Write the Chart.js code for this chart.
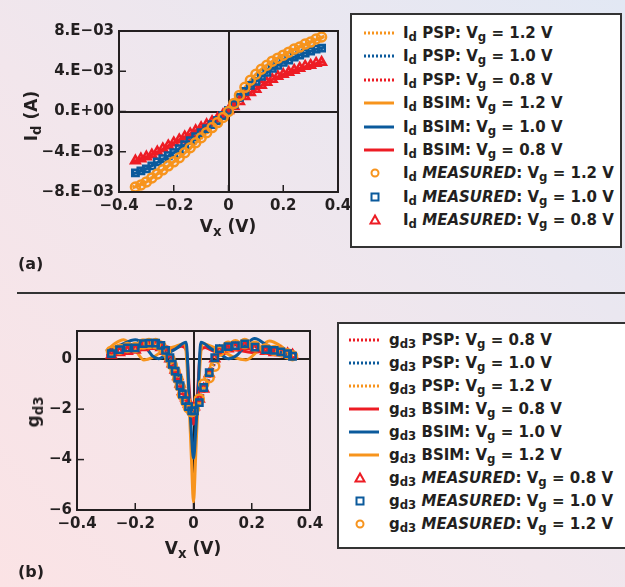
<!DOCTYPE html>
<html>
<head>
<meta charset="utf-8">
<script src="https://cdn.jsdelivr.net/npm/chart.js@4.4.0/dist/chart.umd.min.js"></script>
<style>
  body {
    margin: 0; width: 625px; height: 587px; overflow: hidden; position: relative;
    background: linear-gradient(to top right, #fbe3e5 0%, #f2e6ec 45%, #e2e8f4 100%);
    font-family: "DejaVu Sans", sans-serif; font-weight: 700; color: #231f20;
  }
  .abs { position: absolute; }
  .legend { position: absolute; background: #fff; border: 2px solid #333; box-sizing: border-box; }
  .row { position: absolute; left: 0; height: 22px; display: flex; align-items: center; white-space: nowrap; font-size: 15px; }
  .row svg { flex: none; }
  sub { font-size: 78%; vertical-align: -0.28em; line-height: 0; }
  i { font-style: italic; }
  .title { position: absolute; font-size: 17px; white-space: nowrap; transform: translate(-50%, -50%); }
  .rot { transform: translate(-50%, -50%) rotate(-90deg); }
  .tag { position: absolute; font-size: 16px; }
  .sep { position: absolute; left: 17px; right: 0; top: 292px; height: 1.5px; background: #333; }
</style>
</head>
<body>
<div class="abs" style="left:0;top:0"><canvas id="chartA" width="360" height="240"></canvas></div>
<div class="legend" id="legendA" style="left:350px;top:13px;width:272px;height:235px"></div>
<div class="title rot" style="left:31px;top:116px">I<sub>d</sub> (A)</div>
<div class="title" style="left:228px;top:226px">V<sub>x</sub> (V)</div>
<div class="tag" style="left:18px;top:254px">(a)</div>
<div class="sep"></div>

<div class="abs" style="left:0;top:290px"><canvas id="chartB" width="335" height="285"></canvas></div>
<div class="legend" id="legendB" style="left:337px;top:322px;width:290px;height:227px"></div>
<div class="title rot" style="left:33px;top:412px">g<sub>d3</sub></div>
<div class="title" style="left:193px;top:548px">V<sub>x</sub> (V)</div>
<div class="tag" style="left:18px;top:562px">(b)</div>

<script>
// colours
const orange = "#f7941d";
const blue = "#0b5a9c";
const red = "#ed1c24";
const ink = "#231f20";

// ---- panel (a): Id vs Vx, Id in mA ----
const idTicksX = [-0.4, -0.2, 0, 0.2, 0.4];
const idTickLabelsX = ["\u22120.4", "\u22120.2", "0", "0.2", "0.4"];
const idTicksY = [-8, -4, 0, 4, 8];
const idTickLabelsY = ["\u22128.E\u221203", "\u22124.E\u221203", "0.E+00", "4.E\u221203", "8.E\u221203"];

const idMeasVx = [-0.34, -0.32, -0.30, -0.28, -0.26, -0.24, -0.22, -0.20, -0.18, -0.16, -0.14, -0.12,
  -0.10, -0.08, -0.06, -0.04, -0.02, 0, 0.02, 0.04, 0.06, 0.08, 0.10, 0.12, 0.14, 0.16, 0.18, 0.20,
  0.22, 0.24, 0.26, 0.28, 0.30, 0.32, 0.34];
const idMeas12 = [-7.5, -7.3, -7.0, -6.6, -6.2, -5.8, -5.4, -5.0, -4.6, -4.1, -3.6, -3.1, -2.6, -2.1,
  -1.6, -1.1, -0.6, 0.0, 0.8, 1.6, 2.4, 3.1, 3.7, 4.2, 4.6, 5.0, 5.3, 5.6, 5.9, 6.2, 6.4, 6.7, 6.9, 7.2, 7.4];
const idMeas10 = [-6.1, -5.9, -5.7, -5.4, -5.0, -4.7, -4.4, -4.1, -3.7, -3.3, -2.9, -2.5, -2.1, -1.7,
  -1.3, -0.9, -0.4, 0.1, 0.7, 1.4, 2.0, 2.6, 3.0, 3.5, 3.9, 4.3, 4.6, 4.9, 5.1, 5.4, 5.6, 5.8, 6.0, 6.2, 6.3];
const idMeas08 = [-4.9, -4.7, -4.5, -4.3, -4.0, -3.7, -3.4, -3.1, -2.8, -2.5, -2.2, -1.9, -1.6, -1.3,
  -1.0, -0.7, -0.3, 0.1, 0.5, 1.0, 1.5, 1.9, 2.2, 2.6, 2.9, 3.2, 3.5, 3.7, 3.9, 4.1, 4.3, 4.5, 4.6, 4.8, 4.9];

const idModelVx = [-0.35, -0.3, -0.25, -0.2, -0.15, -0.1, -0.05, 0, 0.05, 0.1, 0.15, 0.2, 0.25, 0.3, 0.35];
const idPsp12 = [-7.5, -6.9, -6.0, -5.0, -3.9, -2.7, -1.4, 0.1, 2.0, 3.6, 4.7, 5.6, 6.3, 6.9, 7.4];
const idPsp10 = [-6.1, -5.6, -4.9, -4.1, -3.1, -2.1, -1.1, 0.1, 1.7, 2.9, 4.0, 4.8, 5.4, 5.9, 6.3];
const idPsp08 = [-4.9, -4.5, -3.9, -3.2, -2.4, -1.6, -0.85, 0.1, 1.2, 2.2, 3.0, 3.6, 4.1, 4.5, 4.9];
const idBsim12 = [-7.6, -7.0, -6.0, -5.0, -3.9, -2.6, -1.3, 0.0, 2.0, 3.7, 4.8, 5.6, 6.3, 6.9, 7.5];
const idBsim10 = [-6.2, -5.7, -4.9, -4.1, -3.1, -2.1, -1.1, 0.1, 1.7, 3.0, 4.1, 4.9, 5.5, 6.0, 6.4];
const idBsim08 = [-5.0, -4.5, -3.9, -3.1, -2.4, -1.6, -0.85, 0.1, 1.25, 2.2, 3.05, 3.7, 4.2, 4.6, 5.0];

// ---- panel (b): gd3 vs Vx ----
const gTicksX = [-0.4, -0.2, 0, 0.2, 0.4];
const gTickLabelsX = ["\u22120.4", "\u22120.2", "0", "0.2", "0.4"];
const gTicksY = [-6, -4, -2, 0];
const gTickLabelsY = ["\u22126", "\u22124", "\u22122", "0"];

const gMeasVx = [-0.282, -0.254, -0.227, -0.2, -0.173, -0.153, -0.13, -0.112, -0.096, -0.081, -0.073,
  -0.063, -0.054, -0.046, -0.038, -0.027, -0.017, -0.006, 0.003, 0.02, 0.035, 0.054, 0.073, 0.089,
  0.119, 0.144, 0.176, 0.211, 0.248, 0.277, 0.3, 0.323, 0.34];
const gMeas08 = [0.15, 0.25, 0.3, 0.35, 0.45, 0.5, 0.5, 0.45, 0.3, 0.0, -0.2, -0.45, -0.7, -1.0, -1.3,
  -1.55, -1.8, -1.95, -1.9, -1.6, -1.2, -0.6, 0.0, 0.3, 0.4, 0.45, 0.5, 0.4, 0.3, 0.25, 0.25, 0.2, 0.15];
const gMeas10 = [0.2, 0.36, 0.43, 0.43, 0.6, 0.62, 0.62, 0.53, 0.33, 0.04, -0.22, -0.49, -0.77, -1.07,
  -1.4, -1.66, -1.9, -2.07, -2.07, -1.74, -1.14, -0.55, 0.04, 0.4, 0.48, 0.52, 0.59, 0.46, 0.36, 0.33, 0.27, 0.2, 0.1];
const gMeas12 = [0.3, 0.38, 0.45, 0.45, 0.58, 0.6, 0.6, 0.5, 0.3, 0.0, -0.25, -0.5, -0.8, -1.1, -1.45,
  -1.7, -1.95, -2.1, -2.0, -1.6, -1.0, -0.75, -0.3, 0.3, 0.5, 0.55, 0.6, 0.5, 0.4, 0.33, 0.28, 0.2, 0.12];

const gPspVx = [-0.29, -0.25, -0.2, -0.15, -0.11, -0.08, -0.05, -0.03, -0.01, 0, 0.01, 0.03, 0.05, 0.08,
  0.11, 0.15, 0.2, 0.25, 0.3, 0.34];
const gPsp08 = [0.2, 0.3, 0.4, 0.5, 0.4, 0.0, -0.9, -1.5, -2.0, -2.1, -2.0, -1.5, -0.9, 0.0, 0.4, 0.5, 0.45, 0.35, 0.25, 0.1];
const gPsp10 = [0.25, 0.4, 0.5, 0.6, 0.5, 0.05, -0.85, -1.5, -2.0, -2.15, -2.0, -1.45, -0.8, 0.05, 0.45, 0.55, 0.5, 0.4, 0.3, 0.12];
const gPsp12 = [0.3, 0.45, 0.5, 0.55, 0.45, 0.0, -0.9, -1.55, -2.0, -2.1, -1.95, -1.4, -0.75, 0.1, 0.5, 0.55, 0.5, 0.4, 0.3, 0.15];

const gBsimVx08 = [-0.3, -0.25, -0.2, -0.15, -0.1, -0.07, -0.04, -0.025, -0.012, 0, 0.012, 0.025, 0.04,
  0.07, 0.1, 0.15, 0.2, 0.25, 0.3, 0.33];
const gBsim08 = [0.15, 0.2, 0.3, 0.45, 0.5, 0.4, 0.5, 0.35, -1.6, -2.6, -1.6, 0.35, 0.45, 0.3, 0.4, 0.35, 0.25, 0.3, 0.25, 0.15];
const gBsimVx10 = [-0.3, -0.25, -0.2, -0.17, -0.14, -0.12, -0.09, -0.06, -0.025, -0.015, -0.008, 0,
  0.008, 0.015, 0.025, 0.06, 0.09, 0.12, 0.15, 0.18, 0.21, 0.25, 0.3, 0.33];
const gBsim10 = [0.3, 0.55, 0.75, 0.55, 0.1, 0.0, 0.2, 0.4, 0.65, -1.5, -2.8, -3.95, -2.8, -1.5, 0.65,
  0.4, 0.2, 0.0, 0.15, 0.55, 0.8, 0.55, 0.25, 0.1];
const gBsimVx12 = [-0.3, -0.27, -0.24, -0.2, -0.17, -0.14, -0.1, -0.06, -0.03, -0.015, -0.007, 0, 0.007,
  0.015, 0.03, 0.06, 0.1, 0.14, 0.18, 0.22, 0.26, 0.3, 0.33];
const gBsim12 = [0.3, 0.6, 0.75, 0.35, -0.05, 0.05, 0.35, 0.5, 0.6, -1.8, -4.0, -5.7, -4.0, -1.8, 0.6,
  0.5, 0.3, 0.05, -0.05, 0.3, 0.7, 0.5, 0.2];

const fontFamily = '"DejaVu Sans", sans-serif';

function pts(xs, ys) {
  return xs.map((x, i) => ({ x: x, y: ys[i] }));
}

function modelSet(label, xs, ys, color, dotted, order) {
  return {
    label: label, data: pts(xs, ys), showLine: true, borderColor: color, borderWidth: 3,
    borderDash: dotted ? [2, 2] : [], pointRadius: 0, cubicInterpolationMode: "monotone",
    order: order, kind: dotted ? "dot" : "line"
  };
}

function measSet(label, xs, ys, color, style, order) {
  return {
    label: label, data: pts(xs, ys), showLine: false, borderColor: color, borderWidth: 2.5,
    backgroundColor: "rgba(255,255,255,0)", pointStyle: style, pointRadius: style === "triangle" ? 5 : 4.5,
    order: order, kind: style
  };
}

// frame box and inward tick marks
const framePlugin = {
  id: "frame",
  afterDraw(chart) {
    const ctx = chart.ctx;
    const a = chart.chartArea;
    ctx.save();
    ctx.strokeStyle = ink;
    ctx.lineWidth = 2;
    ctx.strokeRect(a.left, a.top, a.right - a.left, a.bottom - a.top);
    ctx.lineWidth = 1.5;
    chart.scales.x.ticks.forEach(t => {
      const px = chart.scales.x.getPixelForValue(t.value);
      ctx.beginPath(); ctx.moveTo(px, a.bottom); ctx.lineTo(px, a.bottom - 7); ctx.stroke();
    });
    chart.scales.y.ticks.forEach(t => {
      const py = chart.scales.y.getPixelForValue(t.value);
      ctx.beginPath(); ctx.moveTo(a.left, py); ctx.lineTo(a.left + 7, py); ctx.stroke();
    });
    ctx.restore();
  }
};

function axisOpts(min, max, ticks, labels, extra) {
  return Object.assign({
    type: "linear", min: min, max: max,
    afterBuildTicks: s => { s.ticks = ticks.map(v => ({ value: v })); },
    ticks: {
      callback: (v, i) => labels[i], autoSkip: false, maxRotation: 0, padding: 5,
      font: { family: fontFamily, size: 15, weight: "bold" }, color: ink
    },
    grid: {
      drawTicks: false, lineWidth: 2,
      color: c => (c.tick && c.tick.value === 0 ? ink : "rgba(0,0,0,0)")
    },
    border: { display: false }
  }, extra);
}

function makeChart(id, datasets, xAx, yAx, padding) {
  return new Chart(document.getElementById(id), {
    type: "scatter",
    data: { datasets: datasets },
    options: {
      responsive: false, animation: false, devicePixelRatio: 1,
      layout: { padding: padding },
      plugins: { legend: { display: false }, tooltip: { enabled: false } },
      scales: { x: xAx, y: yAx }
    },
    plugins: [framePlugin]
  });
}

const chartA = makeChart("chartA", [
  modelSet("Id PSP: Vg = 1.2 V", idModelVx, idPsp12, orange, true, 8),
  modelSet("Id PSP: Vg = 1.0 V", idModelVx, idPsp10, blue, true, 7),
  modelSet("Id PSP: Vg = 0.8 V", idModelVx, idPsp08, red, true, 6),
  modelSet("Id BSIM: Vg = 1.2 V", idModelVx, idBsim12, orange, false, 5),
  modelSet("Id BSIM: Vg = 1.0 V", idModelVx, idBsim10, blue, false, 4),
  modelSet("Id BSIM: Vg = 0.8 V", idModelVx, idBsim08, red, false, 3),
  measSet("Id MEASURED: Vg = 1.2 V", idMeasVx, idMeas12, orange, "circle", 0),
  measSet("Id MEASURED: Vg = 1.0 V", idMeasVx, idMeas10, blue, "rect", 1),
  measSet("Id MEASURED: Vg = 0.8 V", idMeasVx, idMeas08, red, "triangle", 2)
],
  axisOpts(-0.4, 0.4, idTicksX, idTickLabelsX, { afterFit: s => { s.height = 48; } }),
  axisOpts(-8, 8, idTicksY, idTickLabelsY, { afterFit: s => { s.width = 119; } }),
  { top: 31, right: 22, left: 0, bottom: 0 });

const chartB = makeChart("chartB", [
  modelSet("gd3 PSP: Vg = 0.8 V", gPspVx, gPsp08, red, true, 8),
  modelSet("gd3 PSP: Vg = 1.0 V", gPspVx, gPsp10, blue, true, 7),
  modelSet("gd3 PSP: Vg = 1.2 V", gPspVx, gPsp12, orange, true, 6),
  modelSet("gd3 BSIM: Vg = 0.8 V", gBsimVx08, gBsim08, red, false, 5),
  modelSet("gd3 BSIM: Vg = 1.0 V", gBsimVx10, gBsim10, blue, false, 3),
  modelSet("gd3 BSIM: Vg = 1.2 V", gBsimVx12, gBsim12, orange, false, 4),
  measSet("gd3 MEASURED: Vg = 0.8 V", gMeasVx, gMeas08, red, "triangle", 2),
  measSet("gd3 MEASURED: Vg = 1.0 V", gMeasVx, gMeas10, blue, "rect", 0),
  measSet("gd3 MEASURED: Vg = 1.2 V", gMeasVx, gMeas12, orange, "circle", 1)
],
  axisOpts(-0.4, 0.4, gTicksX, gTickLabelsX, { afterFit: s => { s.height = 65; } }),
  axisOpts(-6, 1.1, gTicksY, gTickLabelsY, { afterFit: s => { s.width = 77; } }),
  { top: 41, right: 25, left: 0, bottom: 0 });

// legend built from the chart datasets (subscripts need html)
function labelHtml(text) {
  return text.replace(/^Id /, "I<sub>d</sub> ").replace(/^gd3 /, "g<sub>d3</sub> ")
    .replace("MEASURED", "<i>MEASURED</i>").replace("Vg", "V<sub>g</sub>");
}

function swatch(ds) {
  const c = ds.borderColor;
  let inner;
  if (ds.kind === "dot") inner = `<line x1="1" y1="10" x2="31" y2="10" stroke="${c}" stroke-width="3" stroke-dasharray="2 2"/>`;
  else if (ds.kind === "line") inner = `<line x1="1" y1="10" x2="31" y2="10" stroke="${c}" stroke-width="3"/>`;
  else if (ds.kind === "circle") inner = `<circle cx="12" cy="10" r="3.5" fill="#fff" stroke="${c}" stroke-width="2"/>`;
  else if (ds.kind === "rect") inner = `<rect x="8.5" y="6.5" width="7" height="7" fill="#fff" stroke="${c}" stroke-width="2"/>`;
  else inner = `<polygon points="12,5.5 16.5,13.5 7.5,13.5" fill="#fff" stroke="${c}" stroke-width="2"/>`;
  return `<svg width="32" height="20">${inner}</svg>`;
}

function buildLegend(chart, el, top0, step, swLeft, textLeft) {
  chart.data.datasets.forEach((ds, i) => {
    const row = document.createElement("div");
    row.className = "row";
    row.style.top = (top0 + i * step) + "px";
    row.style.left = swLeft + "px";
    row.innerHTML = swatch(ds) + `<span style="margin-left:${textLeft - swLeft - 32}px">${labelHtml(ds.label)}</span>`;
    el.appendChild(row);
  });
}

buildLegend(chartA, document.getElementById("legendA"), 7, 23.4, 11, 51);
buildLegend(chartB, document.getElementById("legendB"), 5, 23, 9, 50);
</script>
</body>
</html>
